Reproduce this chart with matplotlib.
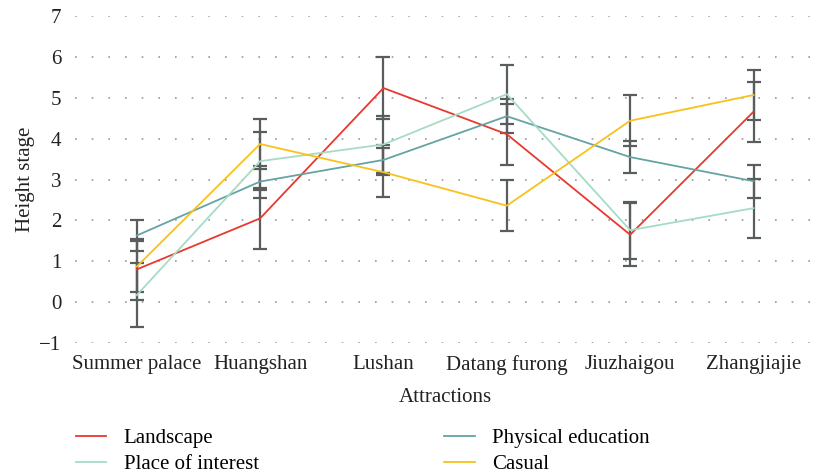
import matplotlib.pyplot as plt
import numpy as np

# attraction names on the x axis
attractions = ['Summer palace', 'Huangshan', 'Lushan', 'Datang furong',
               'Jiuzhaigou', 'Zhangjiajie']

# mean height stage per tourism type
landscape = [0.80, 2.05, 5.24, 4.11, 1.65, 4.66]
physical_education = [1.63, 2.95, 3.48, 4.55, 3.55, 2.96]
place_of_interest = [0.17, 3.45, 3.86, 5.09, 1.76, 2.30]
casual = [0.87, 3.87, 3.18, 2.36, 4.44, 5.07]

# half-widths of the error bars
landscape_err = [0.74, 0.74, 0.76, 0.75, 0.77, 0.74]
physical_education_err = [0.39, 0.39, 0.37, 0.42, 0.40, 0.40]
place_of_interest_err = [0.78, 0.71, 0.70, 0.72, 0.70, 0.72]
casual_err = [0.62, 0.62, 0.60, 0.62, 0.62, 0.62]

series = [
    ('Landscape', landscape, landscape_err, '#e8392e'),
    ('Physical education', physical_education, physical_education_err, '#65a3a5'),
    ('Place of interest', place_of_interest, place_of_interest_err, '#a6dcc3'),
    ('Casual', casual, casual_err, '#f7c21c'),
]

plt.rcParams['font.family'] = ['Liberation Serif', 'DejaVu Serif']

fig = plt.figure(figsize=(8.16, 4.75), dpi=100)
ax = fig.add_axes([0.092, 0.278, 0.907, 0.688])

x = np.arange(len(attractions))
for label, vals, errs, color in series:
    ax.errorbar(x, vals, yerr=errs, color=color, lw=1.3, label=label,
                ecolor='#5a5d5d', elinewidth=1.6, capsize=5, capthick=1.6,
                zorder=3)

ax.set_xlim(-0.5, 5.5)
ax.set_ylim(-1, 7)
ax.set_yticks(range(-1, 8))
ax.set_yticklabels(['\u22121'] + [str(i) for i in range(0, 8)])
ax.set_xticks(x)
ax.set_xticklabels(attractions)
ax.tick_params(length=0, labelsize=15, colors='#222222')
ax.tick_params(axis='x', pad=9)
ax.tick_params(axis='y', pad=10)

for s in ax.spines.values():
    s.set_visible(False)
ax.yaxis.grid(True, linestyle=(0, (1, 9)), color='#999999', lw=1.2)
ax.set_axisbelow(True)

ax.set_xlabel('Attractions', fontsize=15, color='#222222', labelpad=9)
ax.set_ylabel('Height stage', fontsize=15, color='#222222', labelpad=3)

# legend with line handles only, no error bars
handles = [plt.Line2D([], [], color=c, lw=1.3) for _, _, _, c in series]
labels = [s[0] for s in series]
order = [0, 2, 1, 3]
fig.legend([handles[i] for i in order], [labels[i] for i in order],
           loc='lower left', bbox_to_anchor=(0.07, -0.037), ncol=2,
           frameon=False, fontsize=15, handlelength=1.45, handletextpad=0.85,
           columnspacing=8.9, labelspacing=0.3)

fig.savefig('out.png', dpi=100)
